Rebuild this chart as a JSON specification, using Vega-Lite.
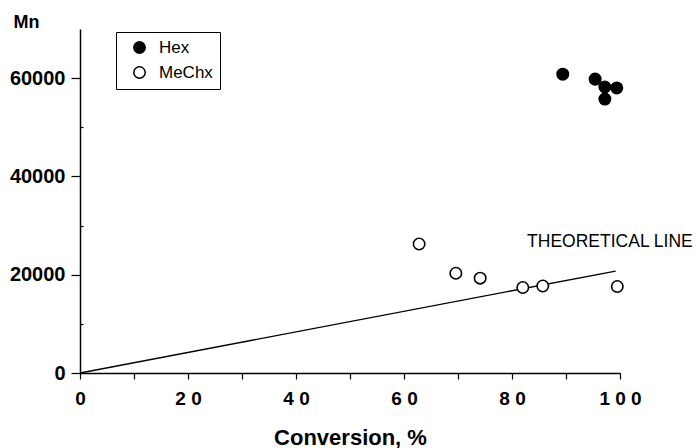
{
  "$schema": "https://vega.github.io/schema/vega-lite/v6.json",
  "autosize": "none",
  "width": 540,
  "height": 344,
  "padding": {"left": 80, "top": 29, "right": 77, "bottom": 75},
  "background": "white",
  "config": {
    "view": {"stroke": null},
    "font": "Liberation Sans",
    "axis": {"domainColor": "black", "tickColor": "black", "domainWidth": 1.5, "tickWidth": 1.2, "labelColor": "black", "titleColor": "black", "labelFont": "Liberation Sans", "titleFont": "Liberation Sans", "labelFontWeight": "bold", "titleFontWeight": "bold", "grid": false, "labelFlush": false, "labelOverlap": false}
  },
  "datasets": {
    "pts": [
      {"conv": 89.4, "mn": 60800, "series": "Hex"},
      {"conv": 95.4, "mn": 59800, "series": "Hex"},
      {"conv": 97.2, "mn": 58200, "series": "Hex"},
      {"conv": 99.4, "mn": 58000, "series": "Hex"},
      {"conv": 97.2, "mn": 55750, "series": "Hex"},
      {"conv": 62.8, "mn": 26250, "series": "MeChx"},
      {"conv": 69.6, "mn": 20300, "series": "MeChx"},
      {"conv": 74.1, "mn": 19300, "series": "MeChx"},
      {"conv": 82.0, "mn": 17400, "series": "MeChx"},
      {"conv": 85.7, "mn": 17700, "series": "MeChx"},
      {"conv": 99.5, "mn": 17600, "series": "MeChx"}
    ],
    "line": [
      {"conv": 0, "mn": 0},
      {"conv": 99.2, "mn": 20750}
    ],
    "label": [
      {"conv": 82.8, "mn": 26650, "text": "THEORETICAL LINE"}
    ]
  },
  "layer": [
    {
      "data": {"name": "line"},
      "mark": {"type": "line", "color": "black", "strokeWidth": 1.3},
      "encoding": {
        "x": {"field": "conv", "type": "quantitative", "scale": {"domain": [0, 100], "nice": false},
          "axis": {"values": [0,10,20,30,40,50,60,70,80,90,100], "labelExpr": "datum.value == 0 ? '0' : datum.value == 20 ? '2 0' : datum.value == 40 ? '4 0' : datum.value == 60 ? '6 0' : datum.value == 80 ? '8 0' : datum.value == 100 ? '1 0 0' : ''", "tickSize": 6, "labelFontSize": 19, "labelPadding": 10, "title": "Conversion, %", "titleFontSize": 22, "titleY": 71, "titleBaseline": "alphabetic"}},
        "y": {"field": "mn", "type": "quantitative", "scale": {"domain": [0, 70000], "nice": false},
          "axis": {"values": [0, 20000, 40000, 60000], "format": "d", "tickSize": 9, "labelFontSize": 20, "labelPadding": 6, "title": "Mn", "titleAngle": 0, "titleAlign": "left", "titleBaseline": "alphabetic", "titleX": -67, "titleY": -2, "titleFontSize": 18}}
      }
    },
    {
      "data": {"name": "line"},
      "mark": {"type": "line", "color": "black", "strokeWidth": 0, "opacity": 0},
      "encoding": {
        "x": {"field": "conv", "type": "quantitative"},
        "y": {"field": "mn", "type": "quantitative",
          "axis": {"orient": "left", "values": [10000, 30000, 50000], "tickSize": -3, "labels": false, "domain": false, "title": null}}
      }
    },
    {
      "data": {"name": "pts"},
      "mark": {"type": "point", "shape": "circle", "stroke": "black", "strokeWidth": 1.6, "size": 130, "opacity": 1},
      "encoding": {
        "x": {"field": "conv", "type": "quantitative"},
        "y": {"field": "mn", "type": "quantitative", "axis": null},
        "fill": {"field": "series", "type": "nominal", "scale": {"domain": ["Hex", "MeChx"], "range": ["black", "white"]},
          "legend": {"title": null, "orient": "none", "legendX": 36, "legendY": 3, "strokeColor": "black", "fillColor": "white", "padding": 7, "symbolType": "circle", "symbolSize": 130, "symbolOffset": 8, "symbolStrokeColor": "black", "symbolStrokeWidth": 1.5, "labelFontSize": 17, "labelFont": "Liberation Sans", "labelColor": "black", "rowPadding": 6, "labelOffset": 11}}
      }
    },
    {
      "data": {"name": "label"},
      "mark": {"type": "text", "align": "left", "baseline": "middle", "fontSize": 17.5, "font": "Liberation Sans", "color": "black"},
      "encoding": {
        "x": {"field": "conv", "type": "quantitative"},
        "y": {"field": "mn", "type": "quantitative", "axis": null},
        "text": {"field": "text"}
      }
    }
  ],
  "resolve": {"axis": {"y": "independent"}}
}
